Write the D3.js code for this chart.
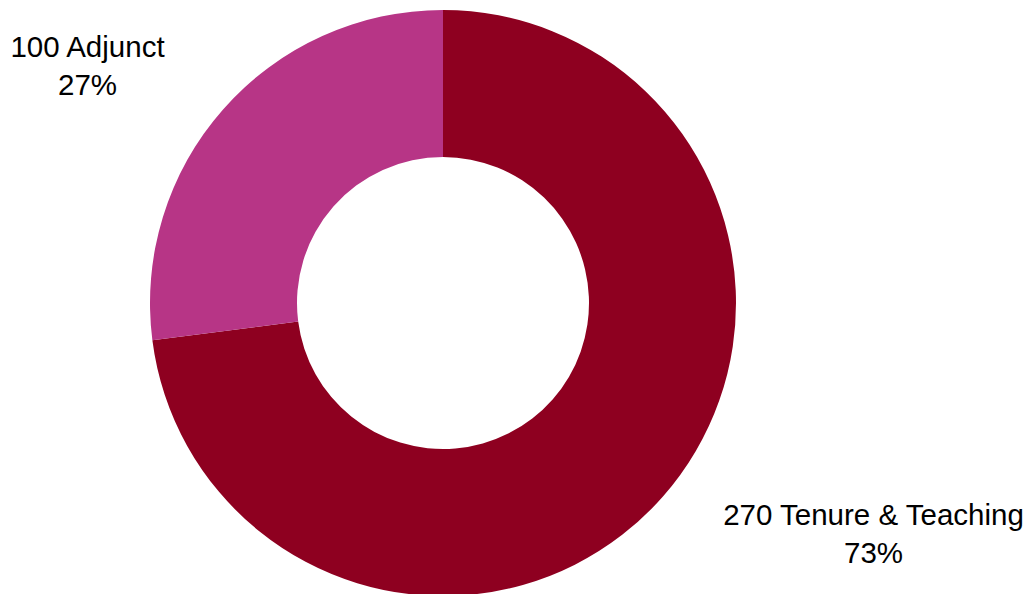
<!DOCTYPE html>
<html>
<head>
<meta charset="utf-8">
<script src="https://cdn.jsdelivr.net/npm/d3@7/dist/d3.min.js"></script>
<style>
  html, body { margin: 0; padding: 0; background: #ffffff; }
  svg { display: block; }
  text { font-family: "Liberation Sans", Arial, sans-serif; fill: #000; }
</style>
</head>
<body>
<svg id="chart" width="1030" height="594"></svg>
<script>
// Faculty headcount by appointment type
const categories = ["Tenure & Teaching", "Adjunct"];
const counts = [270, 100];
const colors = ["#8E0020", "#B73586"];

const width = 1030, height = 594;
const cx = 443, cy = 303;
const outerR = 293, innerR = 146;

const svg = d3.select("#chart");
const data = categories.map((c, i) => ({ name: c, value: counts[i], color: colors[i] }));
const total = d3.sum(counts);

const pie = d3.pie().value(d => d.value).sort(null);
const arc = d3.arc().innerRadius(innerR).outerRadius(outerR);

const g = svg.append("g").attr("transform", `translate(${cx},${cy})`);
g.selectAll("path")
  .data(pie(data))
  .join("path")
  .attr("d", arc)
  .attr("fill", d => d.data.color);

// Outside labels: count + name, then share
const labelPos = { "Tenure & Teaching": [873.5, 525], "Adjunct": [87.5, 57] };
const fmtPct = d3.format(".0%");
data.forEach(d => {
  const [x, y] = labelPos[d.name];
  const t = svg.append("text")
    .attr("text-anchor", "middle")
    .style("font-size", "29.5px");
  t.append("tspan").attr("x", x).attr("y", y).text(`${d.value} ${d.name}`);
  t.append("tspan").attr("x", x).attr("y", y + 37.5).text(fmtPct(d.value / total));
});
</script>
</body>
</html>
